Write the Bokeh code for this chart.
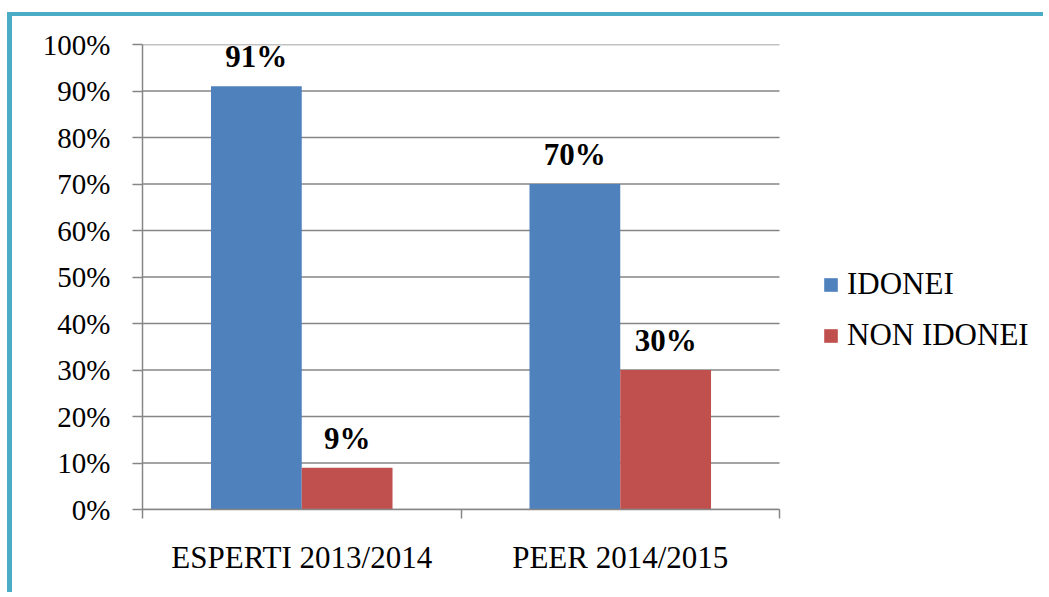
from bokeh.plotting import figure
from bokeh.models import (ColumnDataSource, Range1d, FixedTicker, LabelSet, Legend,
                          LegendItem)
from bokeh.transform import dodge
from bokeh.embed import file_html
from bokeh.resources import INLINE

categories = ["ESPERTI 2013/2014", "PEER 2014/2015"]
series_names = ["IDONEI", "NON IDONEI"]
idonei = [0.91, 0.70]
non_idonei = [0.09, 0.30]
y_ticks = [0.0, 0.1, 0.2, 0.3, 0.4, 0.5, 0.6, 0.7, 0.8, 0.9, 1.0]
y_tick_labels = ["0%", "10%", "20%", "30%", "40%", "50%", "60%", "70%", "80%", "90%", "100%"]

colors = ["#4F81BD", "#C0504D"]
FONT = "Liberation Serif"
GRID = "#868686"

n = len(categories)
xs = list(range(n))
src = ColumnDataSource(dict(
    x=xs,
    idonei=idonei,
    non_idonei=non_idonei,
    idonei_lbl=[f"{round(v*100)}%" for v in idonei],
    non_idonei_lbl=[f"{round(v*100)}%" for v in non_idonei],
))

# plot area: categories occupy 637px of the frame; the rest holds the legend
W, H = 1036, 580
LEFT, TOP, BOTTOM = 130, 28, 87
cat_px = 637
frame_w = W - LEFT
x_end = -0.5 + n * frame_w / cat_px

p = figure(width=W, height=H, output_backend="svg", toolbar_location=None,
           x_range=Range1d(-0.5, x_end), y_range=Range1d(0, 1),
           min_border_left=LEFT, min_border_top=TOP, min_border_bottom=BOTTOM,
           min_border_right=0)
p.styles = {"border-left": "5px solid #4BACC6", "border-top": "4px solid #4BACC6",
            "margin-top": "12px", "margin-left": "7px"}
p.outline_line_color = None
p.background_fill_color = "white"
p.border_fill_color = "white"

# horizontal grid lines limited to the category area
p.xgrid.grid_line_color = None
p.ygrid.grid_line_color = None
p.segment(x0=[-0.5] * len(y_ticks), x1=[n - 0.5] * len(y_ticks), y0=y_ticks, y1=y_ticks,
          line_color=GRID, line_width=1.5)

bw = 0.285
r1 = p.vbar(x=dodge("x", -bw / 2, range=p.x_range), top="idonei", width=bw, source=src,
            fill_color=colors[0], line_color=None)
r2 = p.vbar(x=dodge("x", bw / 2, range=p.x_range), top="non_idonei", width=bw, source=src,
            fill_color=colors[1], line_color=None)

for col, off in (("idonei", -bw / 2), ("non_idonei", bw / 2)):
    ls = LabelSet(x=dodge("x", off, range=p.x_range), y=col, text=col + "_lbl", source=src,
                  text_align="center", text_baseline="alphabetic", y_offset=19,
                  text_font=FONT, text_font_size="31px", text_font_style="bold",
                  text_color="black")
    p.add_layout(ls)

# y axis
ya = p.yaxis[0]
ya.ticker = FixedTicker(ticks=y_ticks, minor_ticks=[])
ya.major_label_overrides = {t: l for t, l in zip(y_ticks, y_tick_labels)}
ya.axis_line_color = GRID
ya.axis_line_width = 1.5
ya.major_tick_line_color = GRID
ya.major_tick_line_width = 1.5
ya.major_tick_out = 10
ya.major_tick_in = 0
ya.major_label_standoff = 22
ya.major_label_text_font = FONT
ya.major_label_text_font_size = "29px"
ya.major_label_text_color = "black"

# x axis
xa = p.xaxis[0]
xa.bounds = (-0.5, n - 0.5)
xa.ticker = FixedTicker(ticks=xs, minor_ticks=[x - 0.5 for x in xs] + [xs[-1] + 0.5])
xa.major_label_overrides = {x: c for x, c in zip(xs, categories)}
xa.axis_line_color = GRID
xa.axis_line_width = 1.5
xa.major_tick_line_color = None
xa.minor_tick_line_color = GRID
xa.minor_tick_line_width = 1.5
xa.minor_tick_out = 9
xa.minor_tick_in = 0
xa.major_label_standoff = 21
xa.major_label_text_font = FONT
xa.major_label_text_font_size = "31px"
xa.major_label_text_color = "black"

legend = Legend(items=[LegendItem(label=series_names[0], renderers=[r1]),
                       LegendItem(label=series_names[1], renderers=[r2])],
                location=(680, 156), orientation="vertical",
                glyph_width=17, glyph_height=17, label_standoff=8, spacing=15,
                padding=0, margin=0, border_line_color=None, background_fill_alpha=0,
                label_text_font=FONT, label_text_font_size="31px", label_text_color="black")
p.add_layout(legend)

open("out.html", "w").write(file_html(p, INLINE))
